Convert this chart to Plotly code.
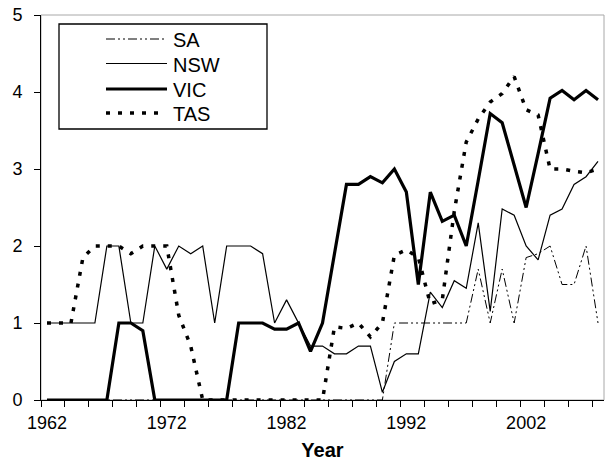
import plotly.graph_objects as go

years = list(range(1962, 2009))

SA = [0, 0, 0, 0, 0, 0, 0, 0, 0, 0,
      0, 0, 0, 0, 0, 0, 0, 0, 0, 0,
      0, 0, 0, 0, 0, 0, 0, 0, 0, 1.0,
      1.0, 1.0, 1.0, 1.0, 1.0, 1.0, 1.7, 1.0, 1.7, 1.0,
      1.85, 1.9, 2.0, 1.5, 1.5, 2.0, 1.0]
NSW = [1, 1, 1, 1, 1, 2, 2, 1, 1, 2,
       1.7, 2, 1.9, 2, 1, 2, 2, 2, 1.9, 1.0,
       1.3, 1.0, 0.7, 0.7, 0.6, 0.6, 0.7, 0.7, 0.1, 0.5,
       0.6, 0.6, 1.4, 1.2, 1.55, 1.45, 2.3, 1.15, 2.48, 2.4,
       2.0, 1.82, 2.4, 2.48, 2.8, 2.9, 3.1]
VIC = [0, 0, 0, 0, 0, 0, 1, 1, 0.9, 0,
       0, 0, 0, 0, 0, 0, 1, 1, 1, 0.92,
       0.92, 1.0, 0.63, 1.0, 1.9, 2.8, 2.8, 2.9, 2.82, 3.0,
       2.7, 1.5, 2.7, 2.32, 2.4, 2.0, 2.85, 3.72, 3.6, 3.05,
       2.5, 3.2, 3.92, 4.02, 3.9, 4.02, 3.9]
TAS = [1, 1, 1, 1.85, 2, 2, 2, 1.9, 2, 2,
       2, 1.1, 0.7, 0, 0, 0, 0, 0, 0, 0,
       0, 0, 0, 0, 0.95, 0.93, 1.0, 0.82, 1.0, 1.88,
       1.95, 1.85, 1.25, 1.3, 2.45, 3.35, 3.65, 3.87, 3.98, 4.2,
       3.77, 3.7, 3.0, 3.0, 2.97, 2.95, 3.0]

series_names = ["SA", "NSW", "VIC", "TAS"]
tick_labels = [1962, 1972, 1982, 1992, 2002]
y_ticks = [0, 1, 2, 3, 4, 5]

FONT = "Liberation Sans, Arial, sans-serif"

styles = {
    "SA": dict(color="black", width=1, dash="9px,3px,2px,3px,2px,3px"),
    "NSW": dict(color="black", width=1.2),
    "VIC": dict(color="black", width=3.2),
    "TAS": dict(color="black", width=3.5, dash="4px,8px"),
}
data = {"SA": SA, "NSW": NSW, "VIC": VIC, "TAS": TAS}

fig = go.Figure()
for name in series_names:
    fig.add_trace(go.Scatter(x=years, y=data[name], name=name, mode="lines",
                             line=styles[name], showlegend=False))

# plot-area geometry in pixels (for placing the legend box)
L, T, W, H = 41, 15, 563, 385
def px(x):
    return (x - L) / W
def py(y):
    return (T + H - y) / H

# plot area border (grey top/right)
fig.add_shape(type="rect", xref="paper", yref="paper", x0=0, x1=1, y0=0, y1=1,
              line=dict(color="#a8a8a8", width=1), layer="below")
# legend box
fig.add_shape(type="rect", xref="paper", yref="paper",
              x0=px(59), x1=px(267), y0=py(129), y1=py(24),
              line=dict(color="black", width=1.3))
legend_rows = [39, 63.5, 89, 113]
for name, yrow in zip(series_names, legend_rows):
    x_end = 160 if name == "TAS" else 167
    fig.add_shape(type="line", xref="paper", yref="paper",
                  x0=px(106), x1=px(x_end), y0=py(yrow), y1=py(yrow),
                  line=styles[name])
    fig.add_annotation(xref="paper", yref="paper", x=px(171), y=py(yrow + 1),
                       text=name, showarrow=False, xanchor="left", yanchor="middle",
                       font=dict(size=20, family=FONT, color="black"))

fig.update_layout(
    width=605, height=461,
    margin=dict(l=L, r=1, t=T, b=61),
    plot_bgcolor="white", paper_bgcolor="white",
    font=dict(family=FONT, color="black", size=18),
    showlegend=False,
    xaxis=dict(range=[1961.5, 2008.5], showgrid=False, zeroline=False,
               showline=True, linecolor="black", linewidth=1,
               tickmode="array", tickvals=tick_labels, ticktext=[str(t) for t in tick_labels],
               ticks="", tickfont=dict(size=18, family=FONT), ticklabelstandoff=6,
               minor=dict(tickmode="linear", tick0=1961.5, dtick=2, ticks="outside",
                          ticklen=6, tickcolor="black", tickwidth=1, showgrid=False),
               title=dict(text="<b>Year</b>", font=dict(size=20, family=FONT), standoff=13)),
    yaxis=dict(range=[0, 5], showgrid=False, zeroline=False,
               showline=True, linecolor="black", linewidth=1,
               tickmode="array", tickvals=y_ticks, ticks="outside", ticklen=6,
               tickcolor="black", tickfont=dict(size=18, family=FONT), ticklabelstandoff=8),
)

fig.write_html("out.html")
